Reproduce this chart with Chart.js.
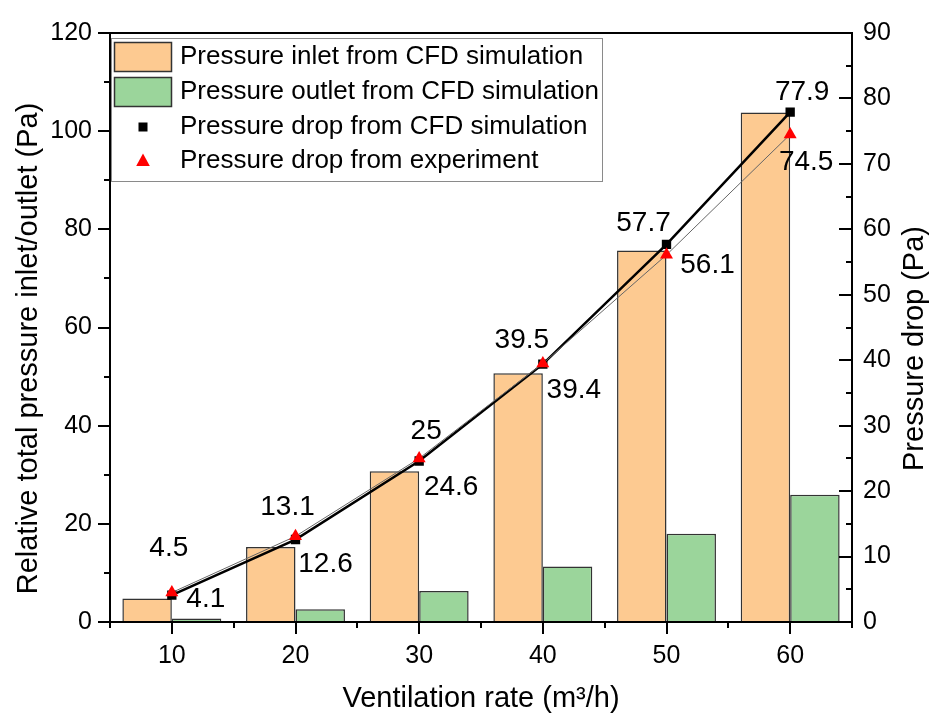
<!DOCTYPE html>
<html><head><meta charset="utf-8">
<script src="https://cdn.jsdelivr.net/npm/chart.js@4.4.1/dist/chart.umd.min.js"></script>
<style>html,body{margin:0;padding:0;background:#fff;}#wrap{width:932px;height:718px;}</style>
</head><body><div id="wrap"><canvas id="c" width="932" height="718"></canvas></div>
<script>
// ---- data ----
const categories = ['10', '20', '30', '40', '50', '60'];
const inletPressure = [4.8, 15.3, 30.7, 50.7, 75.7, 103.8];
const outletPressure = [0.7, 2.6, 6.3, 11.3, 18.0, 25.9];
const cfdDrop = [4.1, 12.6, 24.6, 39.4, 57.7, 77.9];
const expDrop = [4.5, 13.1, 25.0, 39.5, 56.1, 74.5];
const leftTicks = [0, 20, 40, 60, 80, 100, 120];
const rightTicks = [0, 10, 20, 30, 40, 50, 60, 70, 80, 90];
const seriesNames = ['Pressure inlet from CFD simulation', 'Pressure outlet from CFD simulation',
  'Pressure drop from CFD simulation', 'Pressure drop from experiment'];
const xTitle = 'Ventilation rate (m³/h)';
const yTitle = 'Relative total pressure inlet/outlet (Pa)';
const y2Title = 'Pressure drop (Pa)';

// ---- layout of value labels (pixel offsets from the upper / lower point) ----
const upperLabelOffsets = [[-3, -44], [-8, -29], [7, -27], [-21, -23], [-23, -21], [12, -20]];
const lowerLabelOffsets = [[34, 4], [30, 25], [32, 26], [31, 26], [41, 10], [16, 28]];

const FONT = 'Liberation Sans, Arial, sans-serif';
const INLET_COLOR = '#FDCA91';
const OUTLET_COLOR = '#9BD59B';

const axesPlugin = {
  id: 'axesPlugin',
  afterDraw(chart) {
    const ctx = chart.ctx;
    const ca = chart.chartArea;
    const x = chart.scales.x, y = chart.scales.y, y2 = chart.scales.y2;
    ctx.save();
    ctx.strokeStyle = '#000';
    // ticks
    ctx.lineWidth = 2;
    ctx.beginPath();
    leftTicks.forEach((v, i) => {
      const py = Math.round(y.getPixelForValue(v));
      ctx.moveTo(ca.left - 12, py); ctx.lineTo(ca.left, py);
      if (i < leftTicks.length - 1) {
        const my = Math.round(y.getPixelForValue((v + leftTicks[i + 1]) / 2));
        ctx.moveTo(ca.left - 6, my); ctx.lineTo(ca.left, my);
      }
    });
    rightTicks.forEach((v, i) => {
      const py = Math.round(y2.getPixelForValue(v));
      ctx.moveTo(ca.right - 13, py); ctx.lineTo(ca.right, py);
      if (i < rightTicks.length - 1) {
        const my = Math.round(y2.getPixelForValue((v + rightTicks[i + 1]) / 2));
        ctx.moveTo(ca.right - 6, my); ctx.lineTo(ca.right, my);
      }
    });
    const half = (x.getPixelForValue(1) - x.getPixelForValue(0)) / 2;
    categories.forEach((c, i) => {
      const px = Math.round(x.getPixelForValue(i));
      ctx.moveTo(px, ca.bottom); ctx.lineTo(px, ca.bottom + 12);
      const l = Math.round(px - half);
      ctx.moveTo(l, ca.bottom); ctx.lineTo(l, ca.bottom + 6);
      if (i === categories.length - 1) {
        const r = Math.round(px + half);
        ctx.moveTo(r, ca.bottom); ctx.lineTo(r, ca.bottom + 6);
      }
    });
    ctx.stroke();
    // frame
    ctx.lineWidth = 2;
    ctx.strokeRect(ca.left, ca.top, ca.right - ca.left, ca.bottom - ca.top);

    // vertical axis titles (both read bottom-to-top)
    ctx.fillStyle = '#000';
    ctx.font = '29px ' + FONT;
    ctx.textAlign = 'center';
    ctx.textBaseline = 'middle';
    const midY = (ca.top + ca.bottom) / 2 + 21;
    ctx.save(); ctx.translate(29, midY); ctx.rotate(-Math.PI / 2); ctx.fillText(yTitle, 0, 0); ctx.restore();
    ctx.save(); ctx.translate(915, midY); ctx.rotate(-Math.PI / 2); ctx.fillText(y2Title, 0, 0); ctx.restore();

    // value labels
    ctx.font = '28px ' + FONT;
    categories.forEach((c, i) => {
      const px = x.getPixelForValue(i);
      const a = cfdDrop[i], b = expDrop[i];
      const hi = Math.max(a, b), lo = Math.min(a, b);
      const pyHi = y2.getPixelForValue(hi), pyLo = y2.getPixelForValue(lo);
      ctx.fillText(String(hi), px + upperLabelOffsets[i][0], pyHi + upperLabelOffsets[i][1]);
      ctx.fillText(String(lo), px + lowerLabelOffsets[i][0], pyLo + lowerLabelOffsets[i][1]);
    });

    // legend
    const lx = ca.left + 1, ly = ca.top + 5, lw = 491, lh = 143;
    ctx.fillStyle = '#fff';
    ctx.fillRect(lx, ly, lw, lh);
    ctx.lineWidth = 1;
    ctx.strokeStyle = '#8a8a8a';
    ctx.strokeRect(lx + 0.5, ly + 0.5, lw, lh);
    const rows = [ly + 19, ly + 54, ly + 89, ly + 123];
    ctx.strokeStyle = '#333';
    ctx.lineWidth = 1.5;
    ctx.fillStyle = INLET_COLOR;
    ctx.fillRect(lx + 3, ly + 4, 58, 30); ctx.strokeRect(lx + 3.5, ly + 4.5, 57, 29);
    ctx.fillStyle = OUTLET_COLOR;
    ctx.fillRect(lx + 3, ly + 39, 58, 30); ctx.strokeRect(lx + 3.5, ly + 39.5, 57, 29);
    const mx = lx + 32;
    ctx.fillStyle = '#000';
    ctx.fillRect(mx - 4.5, rows[2] - 4.5, 9, 9);
    ctx.fillStyle = '#ff0000';
    ctx.beginPath();
    ctx.moveTo(mx, rows[3] - 7.5); ctx.lineTo(mx + 6.8, rows[3] + 5); ctx.lineTo(mx - 6.8, rows[3] + 5);
    ctx.closePath(); ctx.fill();
    ctx.fillStyle = '#000';
    ctx.font = '26px ' + FONT;
    ctx.textAlign = 'left';
    seriesNames.forEach((n, i) => ctx.fillText(n, lx + 69, rows[i]));
    ctx.restore();
  }
};

new Chart(document.getElementById('c'), {
  data: {
    labels: categories,
    datasets: [
      { type: 'bar', label: seriesNames[0], data: inletPressure, yAxisID: 'y', backgroundColor: INLET_COLOR,
        borderColor: '#333', borderWidth: 1.5, categoryPercentage: 0.8, barPercentage: 1.0, order: 3 },
      { type: 'bar', label: seriesNames[1], data: outletPressure, yAxisID: 'y', backgroundColor: OUTLET_COLOR,
        borderColor: '#333', borderWidth: 1.5, categoryPercentage: 0.8, barPercentage: 1.0, order: 3 },
      { type: 'line', label: seriesNames[2], data: cfdDrop, yAxisID: 'y2', borderColor: '#000', borderWidth: 2.5,
        pointStyle: 'rect', pointRadius: 6.6, pointBackgroundColor: '#000', pointBorderWidth: 0, tension: 0, order: 2 },
      { type: 'line', label: seriesNames[3], data: expDrop, yAxisID: 'y2', borderColor: '#666', borderWidth: 1,
        pointStyle: 'triangle', pointRadius: 7.5, pointBackgroundColor: '#ff0000', pointBorderWidth: 0, tension: 0, order: 1 }
    ]
  },
  options: {
    responsive: false, animation: false, devicePixelRatio: 1,
    layout: { padding: { top: 24, left: 0, right: 0, bottom: 0 } },
    plugins: { legend: { display: false }, tooltip: { enabled: false } },
    scales: {
      x: {
        type: 'category', offset: true,
        grid: { display: false, drawTicks: false }, border: { display: false },
        ticks: { color: '#000', font: { size: 25, family: FONT }, padding: 19, maxRotation: 0 },
        title: { display: true, text: xTitle, color: '#000', font: { size: 29, family: FONT }, padding: { top: 0, bottom: 2 } },
        afterFit: s => { s.height = 96; }
      },
      y: {
        position: 'left', min: 0, max: 120,
        afterBuildTicks: s => { s.ticks = leftTicks.map(v => ({ value: v })); },
        grid: { display: false, drawTicks: false }, border: { display: false },
        ticks: { color: '#000', font: { size: 25, family: FONT }, padding: 18 },
        title: { display: false },
        afterFit: s => { s.width = 110; }
      },
      y2: {
        position: 'right', min: 0, max: 90,
        afterBuildTicks: s => { s.ticks = rightTicks.map(v => ({ value: v })); },
        grid: { display: false, drawTicks: false }, border: { display: false },
        ticks: { color: '#000', font: { size: 25, family: FONT }, padding: 11 },
        title: { display: false },
        afterFit: s => { s.width = 80; }
      }
    }
  },
  plugins: [axesPlugin]
});
</script>
</body></html>
